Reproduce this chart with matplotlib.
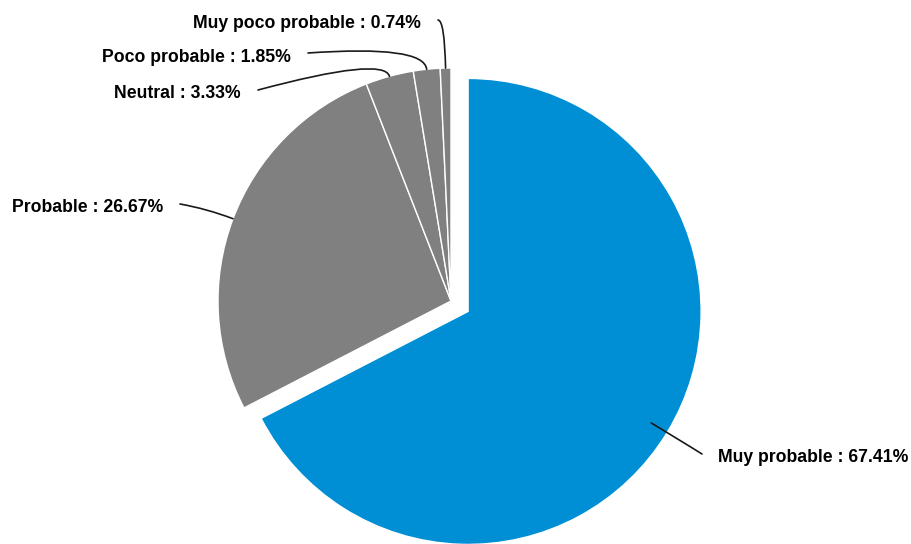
import numpy as np
import matplotlib.pyplot as plt

# Survey answers and their shares (%)
labels = ["Muy probable", "Probable", "Neutral", "Poco probable", "Muy poco probable"]
shares = [67.41, 26.67, 3.33, 1.85, 0.74]
colors = ["#008fd5", "#808080", "#808080", "#808080", "#808080"]
explode_frac = [0.086, 0, 0, 0, 0]

# Label layout (pixel coords, y measured from top), connector start points
label_start = [(702, 454), (180, 204), (258, 90), (308, 53), (438, 20)]
label_side = ["left", "right", "right", "right", "right"]
label_angle = [-15, -10, 15, 4, 0]
anchor_frac = [0.92, 1.0, 1.0, 1.0, 1.0]

W, H = 911, 544
fig = plt.figure(figsize=(W / 100, H / 100), dpi=100)
ax = fig.add_axes([0, 0, 1, 1])

cx, cy, r = 451, H - 301, 233
# matplotlib's explode offset is in data units, scale it by the radius
explode = [e * r for e in explode_frac]
wedges, _ = ax.pie(shares, colors=colors, explode=explode, startangle=90,
                   counterclock=False, center=(cx, cy), radius=r,
                   wedgeprops=dict(edgecolor="white", linewidth=1.0))
ax.set_xlim(0, W)
ax.set_ylim(0, H)
ax.set_aspect("equal")
ax.axis("off")

for i, w in enumerate(wedges):
    mid = np.deg2rad((w.theta1 + w.theta2) / 2)
    wx, wy = w.center
    px = wx + r * anchor_frac[i] * np.cos(mid)
    py = wy + r * anchor_frac[i] * np.sin(mid)
    sx, sy = label_start[i]
    sy = H - sy
    ang_b = np.rad2deg(mid)
    ax.annotate("", xy=(px, py), xytext=(sx, sy),
                arrowprops=dict(arrowstyle="-", color="#1a1a1a", lw=1.2,
                                shrinkA=0, shrinkB=0,
                                connectionstyle=f"angle3,angleA={label_angle[i]},angleB={ang_b:.1f}"))
    txt = f"{labels[i]} : {shares[i]:.2f}%"
    if label_side[i] == "left":
        ax.text(sx + 16, sy - 4, txt, ha="left", va="center", fontsize=12.7,
                fontweight="bold", family="Liberation Sans", color="black")
    else:
        ax.text(sx - 17, sy - 4, txt, ha="right", va="center", fontsize=12.7,
                fontweight="bold", family="Liberation Sans", color="black")

fig.savefig("out.png", dpi=100)
